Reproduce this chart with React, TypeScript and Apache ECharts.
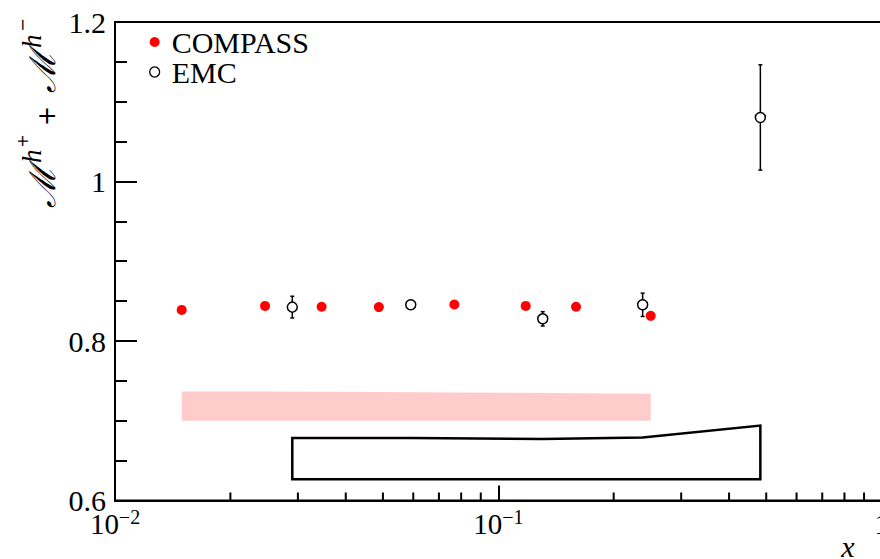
import React, { useEffect, useRef } from 'react';
import * as echarts from 'echarts';

// COMPASS (filled red)
const compassX = [0.01493, 0.02463, 0.0346, 0.0488, 0.0768, 0.1179, 0.1595, 0.2498];
const compassY = [0.839, 0.844, 0.843, 0.8425, 0.8458, 0.844, 0.843, 0.8316];
// COMPASS systematic band (pink)
const compassSystTop = [0.7368, 0.7368, 0.7365, 0.736, 0.7355, 0.735, 0.7345, 0.7338];
const compassSystBase = 0.7;

// EMC (open circles)
const emcX = [0.02901, 0.0591, 0.1306, 0.238, 0.4827];
const emcY = [0.8425, 0.8454, 0.8278, 0.8454, 1.0803];
const emcErr = [0.0136, 0.004, 0.009, 0.0146, 0.066];
// EMC systematic box (outline)
const emcSystTop = [0.6783, 0.6783, 0.677, 0.679, 0.694];
const emcSystBase = 0.6268;

// axis ticks
const xMinorTicks = [0.02, 0.03, 0.04, 0.05, 0.06, 0.07, 0.08, 0.09, 0.2, 0.3, 0.4, 0.5, 0.6, 0.7, 0.8, 0.9];
const yMin = 0.6;
const yMax = 1.2;
const yInterval = 0.2;

const SERIF = 'Liberation Serif, serif';
const SANS = 'DejaVu Sans, sans-serif';

function rotText(text: string, x: number, y: number, fontSize: number, font: string, italic: boolean, align: string) {
  return {
    type: 'text',
    x,
    y,
    rotation: Math.PI / 2,
    style: {
      text,
      fontFamily: font,
      fontStyle: italic ? 'italic' : 'normal',
      fontSize,
      fill: '#000',
      align,
      verticalAlign: 'middle',
    },
  };
}

export default function App() {
  const ref = useRef<HTMLDivElement>(null);

  useEffect(() => {
    if (!ref.current) return;
    const chart = echarts.init(ref.current, null, { renderer: 'svg' });

    const option: any = {
      animation: false,
      backgroundColor: '#fff',
      grid: {
        left: 115,
        top: 22,
        width: 766.6,
        height: 478.5,
        outerBoundsMode: 'none',
        containLabel: false,
        show: true,
        borderColor: '#000',
        borderWidth: 2,
        backgroundColor: 'transparent',
      },
      legend: {
        left: 149,
        top: 27,
        padding: 0,
        orient: 'vertical',
        itemWidth: 10,
        itemHeight: 10,
        itemGap: 0,
        icon: 'circle',
        textStyle: {
          fontFamily: SERIF,
          fontSize: 30,
          color: '#000',
          lineHeight: 29,
          padding: [0, 0, 0, 7],
        },
        data: [
          { name: 'COMPASS', itemStyle: { color: '#ff0000', borderWidth: 0 } },
          { name: 'EMC', itemStyle: { color: '#fff', borderColor: '#000', borderWidth: 1.3 } },
        ],
      },
      xAxis: {
        type: 'log',
        logBase: 10,
        min: 0.01,
        max: 1,
        axisLine: { show: true, onZero: false, lineStyle: { color: '#000', width: 2 } },
        axisTick: { show: true, inside: true, length: 15, lineStyle: { color: '#000', width: 2 } },
        minorTick: { show: false },
        splitLine: { show: false },
        axisLabel: {
          show: true,
          margin: 6,
          showMinLabel: true,
          showMaxLabel: true,
          hideOverlap: false,
          formatter: (v: number) => {
            const e = Math.round(Math.log10(v));
            return e === 0 ? '{b|1}' : `{b|10}{s|\u2212${-e}}`;
          },
          rich: {
            b: { fontFamily: SERIF, fontSize: 29, lineHeight: 34, color: '#000' },
            s: { fontFamily: SERIF, fontSize: 20, verticalAlign: 'top', color: '#000' },
          },
        },
      },
      yAxis: {
        type: 'value',
        min: yMin,
        max: yMax,
        interval: yInterval,
        axisLine: { show: true, onZero: false, lineStyle: { color: '#000', width: 2 } },
        axisTick: { show: true, inside: true, length: 22, lineStyle: { color: '#000', width: 2 } },
        minorTick: { show: true, splitNumber: 4, length: 12, lineStyle: { color: '#000', width: 2 } },
        splitLine: { show: false },
        axisLabel: {
          margin: 9,
          fontFamily: SERIF,
          fontSize: 30,
          color: '#000',
        },
      },
      graphic: [
        // y-axis title: M^{h+} + M^{h-}, drawn bottom-to-top
        rotText('\u2133', 43, 208, 36, SERIF, true, 'left'),
        rotText('h', 32, 163, 27, SERIF, true, 'left'),
        rotText('+', 22, 141, 16, SANS, false, 'center'),
        rotText('+', 46.5, 116, 24, SANS, false, 'center'),
        rotText('\u2133', 43, 93, 36, SERIF, true, 'left'),
        rotText('h', 32, 48, 27, SERIF, true, 'left'),
        rotText('\u2212', 22, 25, 16, SANS, false, 'center'),
        {
          type: 'text',
          x: 848,
          y: 546,
          style: {
            text: 'x',
            fontFamily: SERIF,
            fontStyle: 'italic',
            fontSize: 30,
            lineHeight: 22,
            fill: '#000',
            align: 'center',
            verticalAlign: 'middle',
          },
        },
      ],
      series: [
        {
          name: 'COMPASS syst',
          type: 'custom',
          silent: true,
          data: compassX.map((x, i) => [x, compassSystTop[i]]),
          encode: { x: 0, y: 1 },
          renderItem: (params: any, api: any) => {
            if (params.dataIndex !== 0) return null;
            const pts: number[][] = [];
            for (let i = 0; i < compassX.length; i++) pts.push(api.coord([compassX[i], compassSystTop[i]]));
            for (let i = compassX.length - 1; i >= 0; i--) pts.push(api.coord([compassX[i], compassSystBase]));
            return { type: 'polygon', shape: { points: pts }, style: { fill: '#ffcccc', stroke: 'none' } };
          },
          z: 1,
        },
        {
          name: 'EMC syst',
          type: 'custom',
          silent: true,
          data: emcX.map((x, i) => [x, emcSystTop[i]]),
          encode: { x: 0, y: 1 },
          renderItem: (params: any, api: any) => {
            if (params.dataIndex !== 0) return null;
            const pts: number[][] = [];
            for (let i = 0; i < emcX.length; i++) pts.push(api.coord([emcX[i], emcSystTop[i]]));
            for (let i = emcX.length - 1; i >= 0; i--) pts.push(api.coord([emcX[i], emcSystBase]));
            return { type: 'polygon', shape: { points: pts }, style: { fill: 'none', stroke: '#000', lineWidth: 2.5, lineJoin: 'miter' } };
          },
          z: 1,
        },
        {
          name: 'x minor ticks',
          type: 'custom',
          silent: true,
          data: xMinorTicks.map((x) => [x, yMin]),
          encode: { x: 0, y: 1 },
          renderItem: (params: any, api: any) => {
            const p = api.coord([api.value(0), yMin]);
            return { type: 'line', shape: { x1: p[0], y1: p[1], x2: p[0], y2: p[1] - 8 }, style: { stroke: '#000', lineWidth: 2 } };
          },
          z: 3,
        },
        {
          name: 'EMC errors',
          type: 'custom',
          silent: true,
          data: emcX.map((x, i) => [x, emcY[i], emcY[i] - emcErr[i], emcY[i] + emcErr[i]]),
          encode: { x: 0, y: 1 },
          renderItem: (params: any, api: any) => {
            const x = api.value(0);
            const lo = api.coord([x, api.value(2)]);
            const hi = api.coord([x, api.value(3)]);
            const st = { stroke: '#000', lineWidth: 1.5 };
            return {
              type: 'group',
              children: [
                { type: 'line', shape: { x1: lo[0], y1: lo[1], x2: hi[0], y2: hi[1] }, style: st },
                { type: 'line', shape: { x1: lo[0] - 2, y1: lo[1], x2: lo[0] + 2, y2: lo[1] }, style: st },
                { type: 'line', shape: { x1: hi[0] - 2, y1: hi[1], x2: hi[0] + 2, y2: hi[1] }, style: st },
              ],
            };
          },
          z: 2,
        },
        {
          name: 'EMC',
          type: 'scatter',
          symbol: 'circle',
          symbolSize: 10,
          data: emcX.map((x, i) => [x, emcY[i]]),
          itemStyle: { color: '#fff', borderColor: '#000', borderWidth: 1.5, opacity: 1 },
          z: 3,
        },
        {
          name: 'COMPASS',
          type: 'scatter',
          symbol: 'circle',
          symbolSize: 10,
          data: compassX.map((x, i) => [x, compassY[i]]),
          itemStyle: { color: '#ff0000', opacity: 1 },
          z: 4,
        },
      ],
    };

    chart.setOption(option);
    return () => chart.dispose();
  }, []);

  return (
    <div
      ref={ref}
      style={{ position: 'fixed', left: 0, top: 0, width: 880, height: 559, background: '#fff' }}
    />
  );
}
